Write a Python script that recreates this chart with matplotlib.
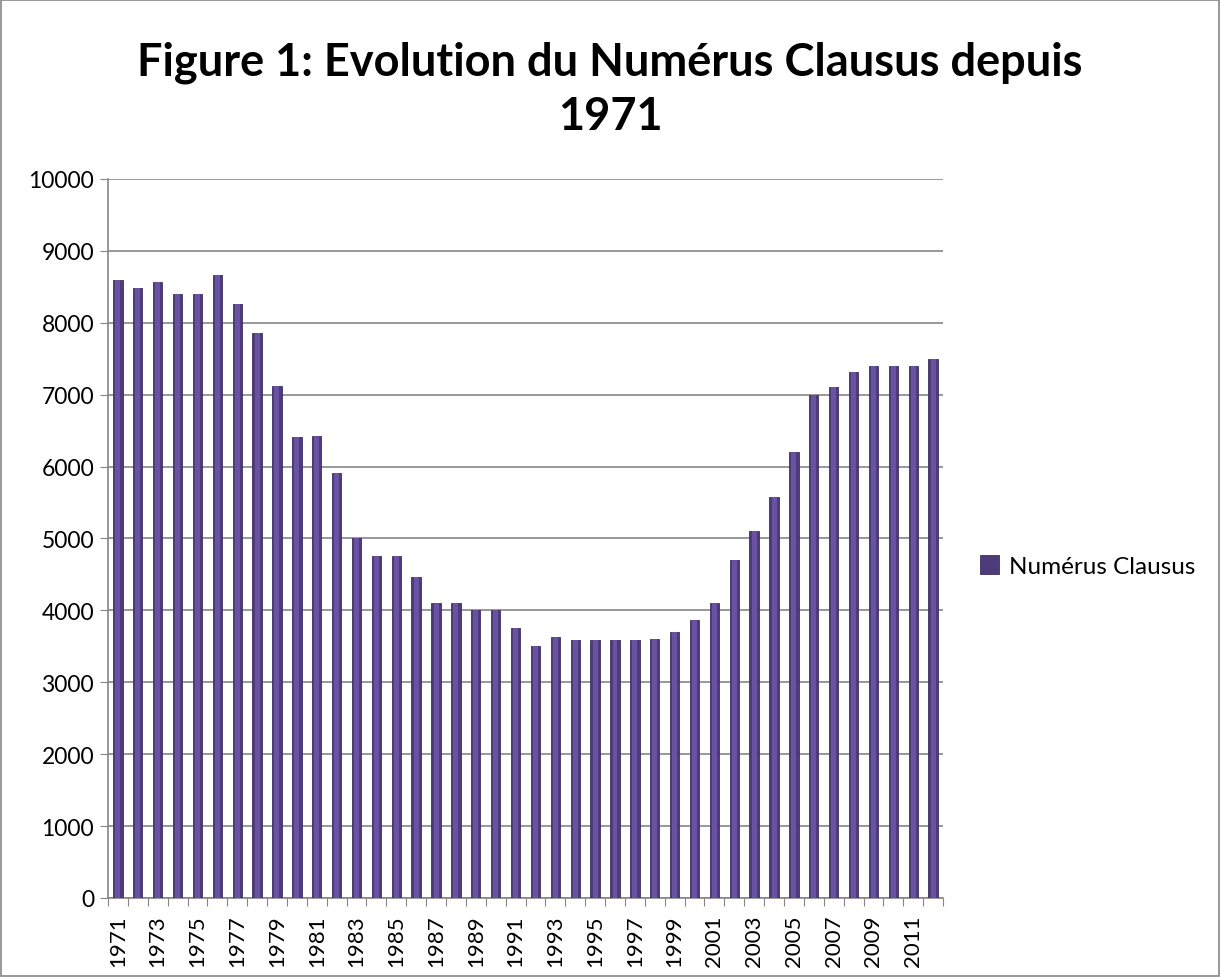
import matplotlib.pyplot as plt
from matplotlib.patches import Rectangle

years = list(range(1971, 2013))
numerus = [8590, 8480, 8570, 8400, 8400, 8670, 8260, 7860, 7120, 6410,
           6430, 5910, 5000, 4760, 4760, 4470, 4100, 4100, 4000, 4000,
           3750, 3500, 3630, 3590, 3590, 3590, 3590, 3600, 3700, 3860,
           4100, 4700, 5100, 5570, 6200, 7000, 7100, 7310, 7400, 7400,
           7400, 7500]
yticks = list(range(0, 10001, 1000))
title = "Figure 1: Evolution du Numérus Clausus depuis\n1971"
series_name = "Numérus Clausus"

plt.rcParams['font.family'] = ['Lato', 'DejaVu Sans']

fig = plt.figure(figsize=(12.2, 9.78), dpi=100)
ax = fig.add_axes([0.0885, 0.0808, 0.6845, 0.7352])

x = list(range(len(years)))
grid_col = '#868686'

# main bars with a lighter core for the bevelled look
ax.bar(x, numerus, width=0.47, color='#4e3c7a', edgecolor='#3d2f62',
       linewidth=0.6, zorder=3, label=series_name)
ax.bar(x, numerus, width=0.25, color='#6a52a3', linewidth=0, zorder=4)

ax.set_xlim(-0.5, len(years) - 0.5)
ax.set_ylim(0, 10000)
ax.set_yticks(yticks)
ax.set_yticklabels([str(v) for v in yticks], fontsize=16.5)

# ticks at category boundaries, labels every other year
ax.set_xticks([i - 0.5 for i in range(len(years) + 1)])
ax.set_xticklabels([])
ax.set_xticks(x[::2], minor=True)
ax.set_xticklabels([str(y) for y in years[::2]], minor=True,
                   rotation=90, fontsize=16)
ax.tick_params(axis='x', which='major', length=6, color=grid_col, direction='out')
ax.tick_params(axis='x', which='minor', length=0, pad=12)
ax.tick_params(axis='y', length=6, color=grid_col, direction='out', pad=4)

ax.yaxis.grid(True, color=grid_col, linewidth=1.2, zorder=0)
ax.set_axisbelow(True)
for side in ['top', 'right']:
    ax.spines[side].set_visible(False)
for side in ['left', 'bottom']:
    ax.spines[side].set_color(grid_col)
    ax.spines[side].set_linewidth(1.2)

fig.text(0.5, 0.958, title, ha='center', va='top', fontsize=32.5,
         fontweight='bold', linespacing=1.38)

leg = fig.legend(loc='center left', bbox_to_anchor=(0.785, 0.42), frameon=False,
                 fontsize=17.5, handlelength=0.8, handleheight=0.8,
                 handletextpad=0.4)

# outer chart border
fig.patches.append(Rectangle((0.001, 0.001), 0.998, 0.998, transform=fig.transFigure,
                             fill=False, edgecolor='#868686', linewidth=1.2))

fig.savefig('out.png', dpi=100)
